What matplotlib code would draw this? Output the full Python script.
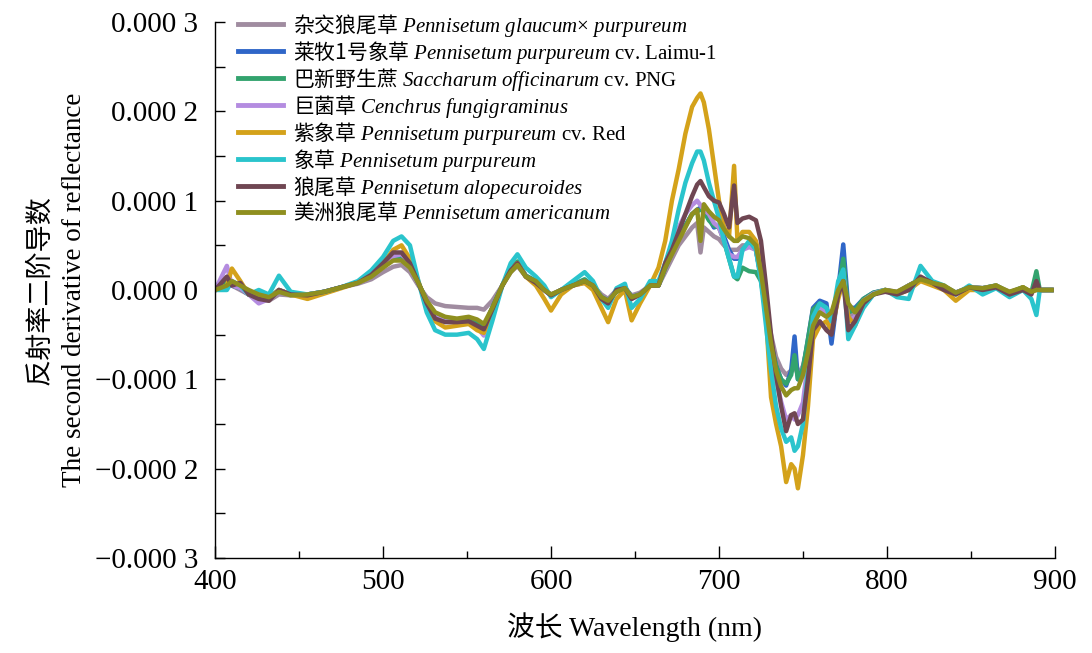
import matplotlib
matplotlib.use("Agg")
import matplotlib.pyplot as plt
from matplotlib.ticker import MultipleLocator

# Fonts: serif for latin text, CJK sans as fallback
plt.rcParams['font.family'] = ['Liberation Serif', 'Noto Sans CJK SC']
plt.rcParams['mathtext.fontset'] = 'custom'
plt.rcParams['mathtext.rm'] = 'Liberation Serif'
plt.rcParams['mathtext.it'] = 'Liberation Serif:italic'
plt.rcParams['mathtext.sf'] = 'Noto Sans CJK SC'

# -----------------------------
# Data (in units of 1e-4)
# -----------------------------
scale = 1e-4

wavelength = [400, 407, 410, 415, 420, 426, 432, 438, 445, 455,
              465, 475, 485, 493, 500, 506, 511, 516, 521, 526,
              531, 537, 544, 551, 556, 560, 565, 571, 576, 580,
              585, 591, 596, 600, 606, 613, 620, 625, 630, 634,
              639, 644, 648, 653, 659, 664, 668, 672, 676, 680,
              684, 687, 689, 691, 694, 697, 700, 703, 706, 709,
              711, 714, 718, 722, 725, 728, 731, 734, 737, 740,
              743, 745, 747, 750, 753, 756, 760, 764, 767, 771,
              774, 777, 781, 786, 792, 799, 806, 813, 820, 827,
              834, 841, 849, 857, 865, 873, 881, 886, 889, 891, 898]

hybrid = [0, 0.05, 0.05, 0.0, -0.05, -0.1, -0.12, -0.05, -0.06, -0.05,
          -0.02, 0.03, 0.07, 0.12, 0.2, 0.26, 0.28, 0.2, 0.05, -0.08,
          -0.15, -0.18, -0.19, -0.2, -0.2, -0.22, -0.12, 0.05, 0.2, 0.27,
          0.15, 0.08, 0.0, -0.05, 0.0, 0.05, 0.08, 0.05, -0.05, -0.1,
          0.0, 0.02, -0.06, -0.03, 0.05, 0.05, 0.2, 0.35, 0.5, 0.6,
          0.7, 0.75, 0.42, 0.7, 0.65, 0.6, 0.57, 0.5, 0.45, 0.45,
          0.45, 0.5, 0.5, 0.45, 0.15, -0.2, -0.5, -0.75, -0.88, -0.95,
          -0.9, -0.85, -0.95, -0.85, -0.6, -0.3, -0.2, -0.25, -0.3, 0.0,
          0.15, -0.3, -0.25, -0.12, -0.05, 0.0, -0.02, 0.05, 0.12, 0.07,
          0.03, -0.03, 0.03, 0.02, 0.04, -0.02, 0.02, -0.02, 0.0, 0.0, 0.0]

laimu = [0, 0.1, 0.05, 0.02, -0.05, -0.08, -0.1, 0.0, -0.05, -0.05,
         -0.02, 0.03, 0.08, 0.15, 0.27, 0.36, 0.38, 0.28, 0.08, -0.13,
         -0.27, -0.32, -0.33, -0.32, -0.36, -0.42, -0.2, 0.05, 0.22, 0.3,
         0.16, 0.1, 0.0, -0.06, 0.0, 0.05, 0.1, 0.05, -0.08, -0.12,
         -0.02, 0.03, -0.08, -0.05, 0.05, 0.05, 0.25, 0.42, 0.58, 0.72,
         0.85, 0.9, 0.92, 0.9, 0.8, 0.7, 0.72, 0.6, 0.45, 0.35,
         0.35, 0.45, 0.5, 0.45, 0.15, -0.25, -0.6, -0.85, -1.0, -1.07,
         -0.9, -0.52, -1.0, -0.9, -0.55, -0.2, -0.12, -0.15, -0.6, 0.0,
         0.51, -0.2, -0.2, -0.1, -0.03, 0.0, -0.03, 0.05, 0.12, 0.08,
         0.04, -0.03, 0.03, 0.02, 0.05, -0.03, 0.03, -0.03, 0.05, 0.0, 0.0]

png = [0, 0.08, 0.05, 0.02, -0.05, -0.07, -0.08, 0.0, -0.05, -0.05,
       -0.02, 0.03, 0.08, 0.15, 0.27, 0.36, 0.38, 0.28, 0.08, -0.13,
       -0.28, -0.34, -0.35, -0.33, -0.37, -0.42, -0.2, 0.05, 0.25, 0.32,
       0.16, 0.1, 0.0, -0.06, 0.0, 0.06, 0.12, 0.05, -0.08, -0.12,
       -0.02, 0.03, -0.08, -0.05, 0.05, 0.05, 0.25, 0.42, 0.58, 0.72,
       0.85, 0.88, 0.9, 0.88, 0.78, 0.72, 0.7, 0.55, 0.35, 0.15,
       0.12, 0.25, 0.21, 0.2, 0.1, -0.25, -0.6, -0.85, -1.0, -1.05,
       -0.95, -0.73, -1.0, -0.88, -0.55, -0.22, -0.15, -0.2, -0.45, 0.0,
       0.35, -0.25, -0.22, -0.1, -0.03, 0.0, -0.03, 0.05, 0.12, 0.08,
       0.04, -0.03, 0.03, 0.02, 0.05, -0.03, 0.03, -0.03, 0.21, 0.0, 0.0]

cenchrus = [0, 0.27, 0.05, 0.02, -0.05, -0.15, -0.1, 0.0, -0.05, -0.05,
            -0.02, 0.03, 0.08, 0.15, 0.28, 0.38, 0.4, 0.3, 0.08, -0.15,
            -0.3, -0.35, -0.36, -0.36, -0.42, -0.51, -0.25, 0.05, 0.22, 0.3,
            0.15, 0.08, 0.0, -0.06, 0.0, 0.05, 0.1, 0.05, -0.1, -0.14,
            0.0, 0.03, -0.1, -0.05, 0.05, 0.05, 0.3, 0.5, 0.7, 0.85,
            0.95, 1.0, 0.95, 0.9, 0.85, 0.75, 0.7, 0.55, 0.4, 0.37,
            0.37, 0.45, 0.48, 0.45, 0.15, -0.3, -0.7, -1.0, -1.25, -1.45,
            -1.4, -1.45, -1.4, -1.26, -0.8, -0.35, -0.2, -0.25, -0.4, 0.0,
            0.2, -0.35, -0.3, -0.12, -0.04, 0.0, -0.03, 0.05, 0.12, 0.08,
            0.03, -0.03, 0.03, 0.02, 0.04, -0.03, 0.02, -0.03, 0.05, 0.0, 0.0]

red = [0, 0.05, 0.24, 0.1, -0.05, -0.05, -0.1, 0.0, -0.05, -0.1,
       -0.04, 0.02, 0.08, 0.15, 0.3, 0.45, 0.5, 0.35, 0.1, -0.2,
       -0.35, -0.42, -0.4, -0.38, -0.45, -0.48, -0.25, 0.05, 0.22, 0.3,
       0.15, 0.05, -0.1, -0.23, -0.05, 0.05, 0.08, 0.0, -0.2, -0.36,
       -0.1, 0.0, -0.34, -0.15, 0.05, 0.25, 0.55, 1.0, 1.35, 1.75,
       2.05, 2.15, 2.2, 2.1, 1.8, 1.4, 1.0, 0.7, 0.6, 1.39,
       0.55, 0.65, 0.65, 0.55, 0.3, -0.3, -1.2, -1.5, -1.75, -2.15,
       -1.95, -2.0, -2.22, -1.85, -1.3, -0.55, -0.4, -0.35, -0.45, -0.1,
       0.1, -0.3, -0.4, -0.15, -0.05, 0.0, -0.05, 0.0, 0.1, 0.05,
       0.0, -0.12, 0.0, 0.0, 0.05, -0.05, 0.03, -0.03, 0.05, 0.0, 0.0]

napier = [0, 0.0, 0.1, 0.05, -0.05, 0.0, -0.05, 0.16, -0.02, -0.05,
          -0.02, 0.03, 0.1, 0.22, 0.37, 0.55, 0.6, 0.5, 0.1, -0.25,
          -0.45, -0.5, -0.5, -0.48, -0.55, -0.66, -0.35, 0.05, 0.3, 0.4,
          0.25, 0.15, 0.05, -0.08, 0.0, 0.1, 0.2, 0.1, -0.1, -0.2,
          0.02, 0.07, -0.2, -0.1, 0.1, 0.1, 0.3, 0.55, 0.9, 1.2,
          1.42, 1.55, 1.55, 1.45, 1.2, 1.0, 0.8, 0.55, 0.35, 0.15,
          0.15, 0.45, 0.55, 0.45, 0.1, -0.4, -0.9, -1.3, -1.55, -1.7,
          -1.65, -1.8, -1.75, -1.5, -0.9, -0.3, -0.15, -0.2, -0.35, 0.1,
          0.23, -0.55, -0.4, -0.2, -0.05, 0.0, -0.08, -0.1, 0.27, 0.1,
          0.05, -0.05, 0.05, -0.05, 0.02, -0.08, 0.0, -0.1, -0.28, 0.0, 0.0]

alopecuroides = [0, 0.15, 0.05, 0.08, -0.05, -0.1, -0.12, 0.0, -0.05, -0.06,
                 -0.02, 0.03, 0.08, 0.17, 0.3, 0.42, 0.42, 0.3, 0.08, -0.15,
                 -0.32, -0.36, -0.36, -0.35, -0.4, -0.44, -0.22, 0.05, 0.22, 0.3,
                 0.15, 0.08, 0.0, -0.06, 0.0, 0.05, 0.1, 0.05, -0.1, -0.15,
                 0.0, 0.02, -0.1, -0.05, 0.05, 0.05, 0.3, 0.45, 0.65, 0.85,
                 1.05, 1.18, 1.22, 1.15, 1.05, 1.0, 0.98, 0.85, 0.7, 1.17,
                 0.75, 0.8, 0.82, 0.78, 0.55, 0.05, -0.5, -0.95, -1.3, -1.58,
                 -1.4, -1.38, -1.5, -1.45, -1.0, -0.45, -0.35, -0.45, -0.5, -0.05,
                 0.1, -0.45, -0.35, -0.15, -0.05, -0.02, -0.05, 0.0, 0.15, 0.08,
                 0.0, -0.05, 0.03, 0.0, 0.03, -0.05, 0.0, -0.05, 0.1, 0.0, 0.0]

americanum = [0, 0.05, 0.1, 0.05, 0.0, -0.05, -0.08, -0.02, -0.06, -0.05,
              -0.02, 0.03, 0.08, 0.15, 0.25, 0.33, 0.33, 0.25, 0.08, -0.12,
              -0.25, -0.3, -0.32, -0.3, -0.33, -0.38, -0.2, 0.05, 0.2, 0.28,
              0.15, 0.1, 0.0, -0.05, 0.0, 0.05, 0.1, 0.05, -0.08, -0.12,
              -0.02, 0.02, -0.08, -0.05, 0.05, 0.05, 0.25, 0.4, 0.55, 0.7,
              0.85, 0.9, 0.55, 0.96, 0.88, 0.82, 0.78, 0.68, 0.6, 0.55,
              0.55, 0.6, 0.58, 0.5, 0.2, -0.2, -0.6, -0.9, -1.08, -1.18,
              -1.12, -1.1, -1.1, -0.95, -0.7, -0.4, -0.25, -0.3, -0.25, 0.0,
              0.1, -0.15, -0.25, -0.12, -0.05, 0.0, -0.02, 0.05, 0.12, 0.08,
              0.05, -0.03, 0.03, 0.02, 0.05, -0.02, 0.03, -0.02, 0.0, 0.0, 0.0]

series = [hybrid, laimu, png, cenchrus, red, napier, alopecuroides, americanum]

labels = [
    r'$\mathsf{杂交狼尾草}$ $\mathit{Pennisetum\ glaucum}$× $\mathit{purpureum}$',
    r'$\mathsf{莱牧1号象草}$ $\mathit{Pennisetum\ purpureum}$ cv. Laimu-1',
    r'$\mathsf{巴新野生蔗}$ $\mathit{Saccharum\ officinarum}$ cv. PNG',
    r'$\mathsf{巨菌草}$ $\mathit{Cenchrus\ fungigraminus}$',
    r'$\mathsf{紫象草}$ $\mathit{Pennisetum\ purpureum}$ cv. Red',
    r'$\mathsf{象草}$ $\mathit{Pennisetum\ purpureum}$',
    r'$\mathsf{狼尾草}$ $\mathit{Pennisetum\ alopecuroides}$',
    r'$\mathsf{美洲狼尾草}$ $\mathit{Pennisetum\ americanum}$',
]

colors = ['#a08ca0', '#2f66c8', '#33a36e', '#b48ce0',
          '#d4a21a', '#2ac4cc', '#6f4652', '#8f8f1f']

y_ticks = [-3, -2, -1, 0, 1, 2, 3]
y_tick_labels = ['\u22120.000 3', '\u22120.000 2', '\u22120.000 1', '0.000 0',
                 '0.000 1', '0.000 2', '0.000 3']
x_ticks = [400, 500, 600, 700, 800, 900]

# -----------------------------
# Plotting
# -----------------------------
fig = plt.figure(figsize=(10.92, 6.53), dpi=100)
ax = fig.add_axes([0.197, 0.1455, 0.769, 0.8208])

for values, label, color in zip(series, labels, colors):
    ax.plot(wavelength, [v * scale for v in values], color=color,
            linewidth=3.2, label=label, solid_joinstyle='round')

ax.set_xlim(400, 900)
ax.set_ylim(-3 * scale, 3 * scale)
ax.set_xticks(x_ticks)
ax.set_yticks([t * scale for t in y_ticks])
ax.set_yticklabels(y_tick_labels)
ax.xaxis.set_minor_locator(MultipleLocator(50))
ax.yaxis.set_minor_locator(MultipleLocator(0.5 * scale))

ax.spines['top'].set_visible(False)
ax.spines['right'].set_visible(False)
for side in ['left', 'bottom']:
    ax.spines[side].set_linewidth(1.0)

ax.tick_params(axis='both', which='both', direction='in', labelsize=21, width=1.0)
ax.tick_params(axis='x', which='major', length=9, pad=8)
ax.tick_params(axis='x', which='minor', length=5)
ax.tick_params(axis='y', which='both', length=7, pad=12)

ax.set_xlabel('波长 Wavelength (nm)', fontsize=20, labelpad=12)
ax.set_ylabel('反射率二阶导数\nThe second derivative of reflectance',
              fontsize=19.5, linespacing=1.45, labelpad=6)

leg = ax.legend(loc='upper left', bbox_to_anchor=(0.017, 1.035), frameon=False,
                prop={'family': 'Liberation Serif', 'size': 15},
                handlelength=2.15, handletextpad=0.5, labelspacing=0.0,
                borderaxespad=0)
for line in leg.get_lines():
    line.set_linewidth(3.5)

fig.savefig('out.png', dpi=100)
plt.close(fig)
